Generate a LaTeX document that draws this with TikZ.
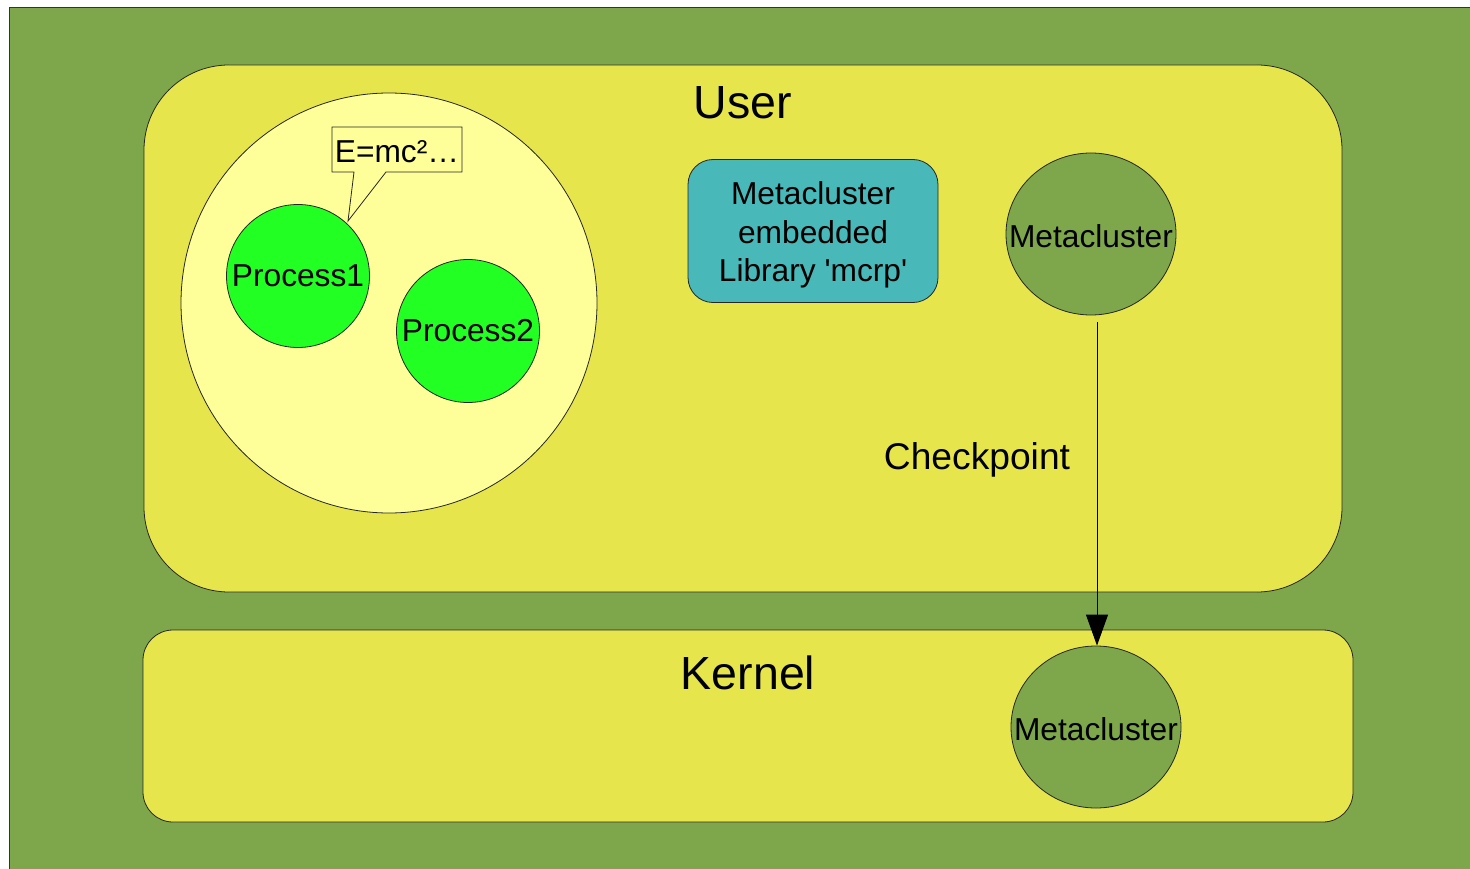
\documentclass[tikz,border=0pt]{standalone}
\usepackage{fontspec}
\setmainfont{Liberation Sans}[Ligatures=TeXOff]
\usetikzlibrary{arrows.meta,shapes.geometric}
\definecolor{bggreen}{RGB}{126,166,74}
\definecolor{boxyellow}{RGB}{230,230,76}
\definecolor{paleyellow}{RGB}{255,255,153}
\definecolor{procgreen}{RGB}{34,255,34}
\definecolor{tealbox}{RGB}{72,184,184}
\tikzset{
  edge/.style={draw=black!85, line width=0.8pt},
  txt/.style={font=\fontsize{31.7}{38}\selectfont, inner sep=0pt},
  proc/.style={edge, circle, fill=procgreen, minimum size=143pt, inner sep=0pt},
  meta/.style={edge, ellipse, fill=bggreen, minimum width=170pt, minimum height=162pt, inner sep=0pt},
  big/.style={font=\fontsize{46.5}{55}\selectfont},
}
\begin{document}
\begin{tikzpicture}[x=1pt,y=-1pt]
\useasboundingbox (0,0) rectangle (1470,869);
\begin{scope}
\clip (0,0) rectangle (1470,869);
\draw[fill=bggreen, draw=black!80, line width=0.8pt] (9,7) rectangle (1490,890);
\end{scope}
% User box
\draw[edge, fill=boxyellow, rounded corners=85pt] (144,65) rectangle (1342,592);
\node[big] (user) at (743,103) {User};
% Kernel box
\draw[edge, fill=boxyellow, rounded corners=30pt] (143,630) rectangle (1353,822);
\node[big] (kernel) at (748,673) {Kernel};
% big circle
\node[edge, ellipse, fill=paleyellow, minimum width=416pt, minimum height=420pt, inner sep=0pt] (env) at (389,303) {};
\node[proc] (p1) at (298,276) {};
\node[txt] (p1t) at (p1) {Process1};
\node[proc] (p2) at (468,331) {};
\node[txt] (p2t) at (p2) {Process2};
% callout
\draw[edge, fill=paleyellow] (332,127) -- (462,127) -- (462,172) -- (386,172) -- (348,221) -- (354,172) -- (332,172) -- cycle;
\node[txt] (callout) at (397,152) {E=mc²…};
% teal box
\node[edge, fill=tealbox, rounded corners=25pt, minimum width=250pt, minimum height=143pt] (lib) at (813,231) {};
\node[txt, align=center, font=\fontsize{31.7}{38.5}\selectfont] (libt) at (813,235) {Metacluster\\embedded\\Library 'mcrp'};
% metaclusters
\node[meta] (mu) at (1091,234) {};
\node[txt] (mut) at (1091,236) {Metacluster};
\node[meta] (mk) at (1096,727) {};
\node[txt] (mkt) at (1096,729) {Metacluster};
\node[font=\fontsize{37.2}{44}\selectfont] (cp) at (977,460) {Checkpoint};
\coordinate (cs) at (1097,322);
\draw[black, line width=0.8pt, -{Triangle[length=31pt,width=22pt]}] (cs) -- (mk.north -| cs);
\end{tikzpicture}
\end{document}
